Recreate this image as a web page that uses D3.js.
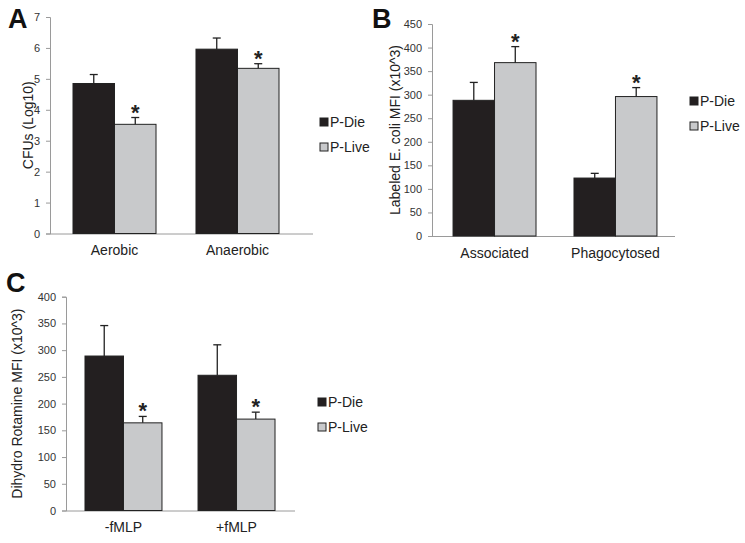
<!DOCTYPE html>
<html><head><meta charset="utf-8">
<script src="https://cdn.jsdelivr.net/npm/d3@7"></script>
<style>
body{margin:0;background:#fff;}
svg text{font-family:"Liberation Sans",Arial,sans-serif;}
</style></head>
<body><svg id="c" width="745" height="543"></svg>
<script>
const seriesNames = ["P-Die", "P-Live"];
const seriesColors = ["#231f20", "#c8c9cb"];

// Panel A
const catsA = ["Aerobic", "Anaerobic"];
const dieA = [4.85, 5.96];
const dieErrA = [0.29, 0.36];
const liveA = [3.53, 5.34];
const liveErrA = [0.22, 0.15];
const ticksA = [0,1,2,3,4,5,6,7];

// Panel B
const catsB = ["Associated", "Phagocytosed"];
const dieB = [288, 123];
const dieErrB = [38, 10];
const liveB = [368, 296];
const liveErrB = [34, 19];
const ticksB = [0,50,100,150,200,250,300,350,400,450];

// Panel C
const catsC = ["-fMLP", "+fMLP"];
const dieC = [289, 253];
const dieErrC = [57, 57];
const liveC = [164, 171];
const liveErrC = [12, 13];
const ticksC = [0,50,100,150,200,250,300,350,400];

const svg = d3.select("#c");

function panel(o){
  const g = svg.append("g");
  const y = d3.scaleLinear().domain([0, o.ymax]).range([o.y0, o.y1]);
  const x = d3.scaleBand().domain(o.cats).range([o.x0, o.x1]).paddingInner(o.pi).paddingOuter(o.po);
  const xs = d3.scaleBand().domain([0,1]).range([0, x.bandwidth()]);
  const ya = g.append("g").attr("transform",`translate(${o.x0},0)`)
    .call(d3.axisLeft(y).tickValues(o.ticks).tickSize(4).tickPadding(6).tickFormat(d3.format("d")));
  ya.select(".domain").attr("stroke","#9a9a9a");
  ya.selectAll(".tick line").attr("stroke","#9a9a9a");
  ya.selectAll("text").attr("font-size",11).attr("fill","#333");
  const xa = g.append("g").attr("transform",`translate(0,${o.y0})`)
    .call(d3.axisBottom(x).tickSize(0).tickPadding(12));
  xa.select(".domain").attr("stroke","#9a9a9a").attr("d",`M${o.x0},0.5H${o.axisEnd}`);
  xa.selectAll("text").attr("font-size",14).attr("fill","#222");
  const series = [[o.die,o.dieErr],[o.live,o.liveErr]];
  series.forEach((s,si)=>{
    o.cats.forEach((c,ci)=>{
      const bx = x(c)+xs(si), bw = xs.bandwidth();
      g.append("rect").attr("x",bx).attr("y",y(s[0][ci])).attr("width",bw)
        .attr("height",o.y0-y(s[0][ci])).attr("fill",seriesColors[si]).attr("stroke","#222").attr("stroke-width",1);
      const cx = bx+bw/2, top = y(s[0][ci]+s[1][ci]);
      g.append("line").attr("x1",cx).attr("x2",cx).attr("y1",y(s[0][ci])).attr("y2",top).attr("stroke","#222").attr("stroke-width",1.3);
      g.append("line").attr("x1",cx-4).attr("x2",cx+4).attr("y1",top).attr("y2",top).attr("stroke","#222").attr("stroke-width",1.3);
      if(si===1){
        g.append("text").attr("x",cx).attr("y",top+2).attr("text-anchor","middle")
          .attr("font-size",22).attr("font-weight","bold").attr("fill","#222").text("*");
      }
    });
  });
  g.append("text").attr("transform",`translate(${o.titleX},${(o.y0+o.y1)/2}) rotate(-90)`)
    .attr("text-anchor","middle").attr("font-size",14).attr("fill","#222").text(o.title);
  g.append("text").attr("x",o.letterX).attr("y",o.letterY).attr("font-size",27).attr("font-weight","bold")
    .attr("fill","#111").text(o.letter);
  seriesNames.forEach((n,i)=>{
    const ly = o.legY + i*25;
    g.append("rect").attr("x",o.legX).attr("y",ly-4).attr("width",8).attr("height",8)
      .attr("fill",seriesColors[i]).attr("stroke","#222").attr("stroke-width",1);
    g.append("text").attr("x",o.legX+10).attr("y",ly+5).attr("font-size",14).attr("fill","#222").text(n);
  });
}

panel({cats:catsA,die:dieA,dieErr:dieErrA,live:liveA,liveErr:liveErrA,ticks:ticksA,ymax:7,
  x0:50,x1:302,pi:0.325,po:0.187,axisEnd:313,y0:233.5,y1:17,title:"CFUs (Log10)",titleX:33,letter:"A",letterX:8,letterY:28,
  legX:320,legY:122});
panel({cats:catsB,die:dieB,dieErr:dieErrB,live:liveB,liveErr:liveErrB,ticks:ticksB,ymax:450,
  x0:432,x1:678,pi:0.314,po:0.174,axisEnd:675,y0:236,y1:24,title:"Labeled E. coli MFI (x10^3)",titleX:400,letter:"B",letterX:372,letterY:28,
  legX:690,legY:101});
panel({cats:catsC,die:dieC,dieErr:dieErrC,live:liveC,liveErr:liveErrC,ticks:ticksC,ymax:400,
  x0:66,x1:294,pi:0.319,po:0.168,axisEnd:295,y0:510.5,y1:296.7,title:"Dihydro Rotamine MFI (x10^3)",titleX:22,letter:"C",letterX:6,letterY:292,
  legX:318,legY:402});
</script></body></html>
